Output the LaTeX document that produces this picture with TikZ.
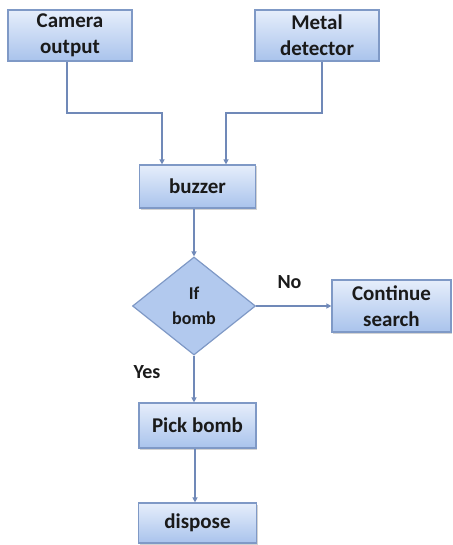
\documentclass[tikz,border=0pt]{standalone}
\usepackage{fontspec}
\setmainfont{Carlito}
\usetikzlibrary{arrows.meta,shapes.geometric,shadows}
\definecolor{boxtop}{HTML}{E6EEFB}
\definecolor{boxbot}{HTML}{A9C3EC}
\definecolor{boxline}{HTML}{7F99C6}
\definecolor{conn}{HTML}{7089B8}
\definecolor{txt}{HTML}{1A1A1A}
\tikzset{
  blk/.style={rectangle, draw=boxline, line width=1.2pt, top color=boxtop, bottom color=boxbot,
    text=txt, font=\bfseries\fontsize{21}{26}\selectfont, align=center, inner sep=0pt,
    drop shadow={shadow xshift=1pt, shadow yshift=-1.5pt, opacity=0.35}},
  dia/.style={diamond, draw=boxline, line width=1.2pt, fill=boxbot!85!boxtop,
    text=txt, font=\bfseries\fontsize{18}{25}\selectfont, align=center, inner sep=0pt},
  conn/.style={draw=conn, line width=1.4pt, -{Triangle[length=5pt,width=5pt]}},
  lbl/.style={text=txt, font=\bfseries\fontsize{20}{22}\selectfont, inner sep=0pt}
}
\begin{document}
\begin{tikzpicture}[x=1pt,y=-1pt]
\useasboundingbox (0,0) rectangle (452,545);
\node[blk, minimum width=124pt, minimum height=51pt] (cam) at (70,35.5) {Camera\\output};
\node[blk, minimum width=124pt, minimum height=51pt] (met) at (317,35.5) {Metal\\detector};
\node[blk, minimum width=116pt, minimum height=43pt] (buz) at (197.5,186.5) {buzzer};
\node[dia, minimum width=123pt, minimum height=98pt] (ifb) at (194,306) {If\\bomb};
\node[blk, minimum width=119pt, minimum height=52pt] (cont) at (391.5,306) {Continue\\search};
\node[blk, minimum width=117pt, minimum height=45pt] (pick) at (197.5,425.5) {Pick bomb};
\node[blk, minimum width=118pt, minimum height=40pt] (disp) at (197.5,523) {dispose};
\node[lbl] (no) at (289.5,282) {No};
\node[lbl] (yes) at (147,372) {Yes};
\coordinate (c1) at (67,113);
\coordinate (c2) at (162,113);
\coordinate (m1) at (322,113);
\coordinate (m2) at (226,113);
\coordinate (v1) at (195,0);
\draw[conn] (cam.south -| c1) -- (c1) -- (c2) -- (c2 |- buz.north);
\draw[conn] (met.south -| m1) -- (m1) -- (m2) -- (m2 |- buz.north);
\draw[conn] (buz.south -| ifb.north) -- (ifb.north);
\draw[conn] (ifb.east) -- (cont.west);
\draw[conn] (ifb.south) -- (ifb.south |- pick.north);
\draw[conn] (pick.south -| v1) -- (disp.north -| v1);
\end{tikzpicture}
\end{document}
